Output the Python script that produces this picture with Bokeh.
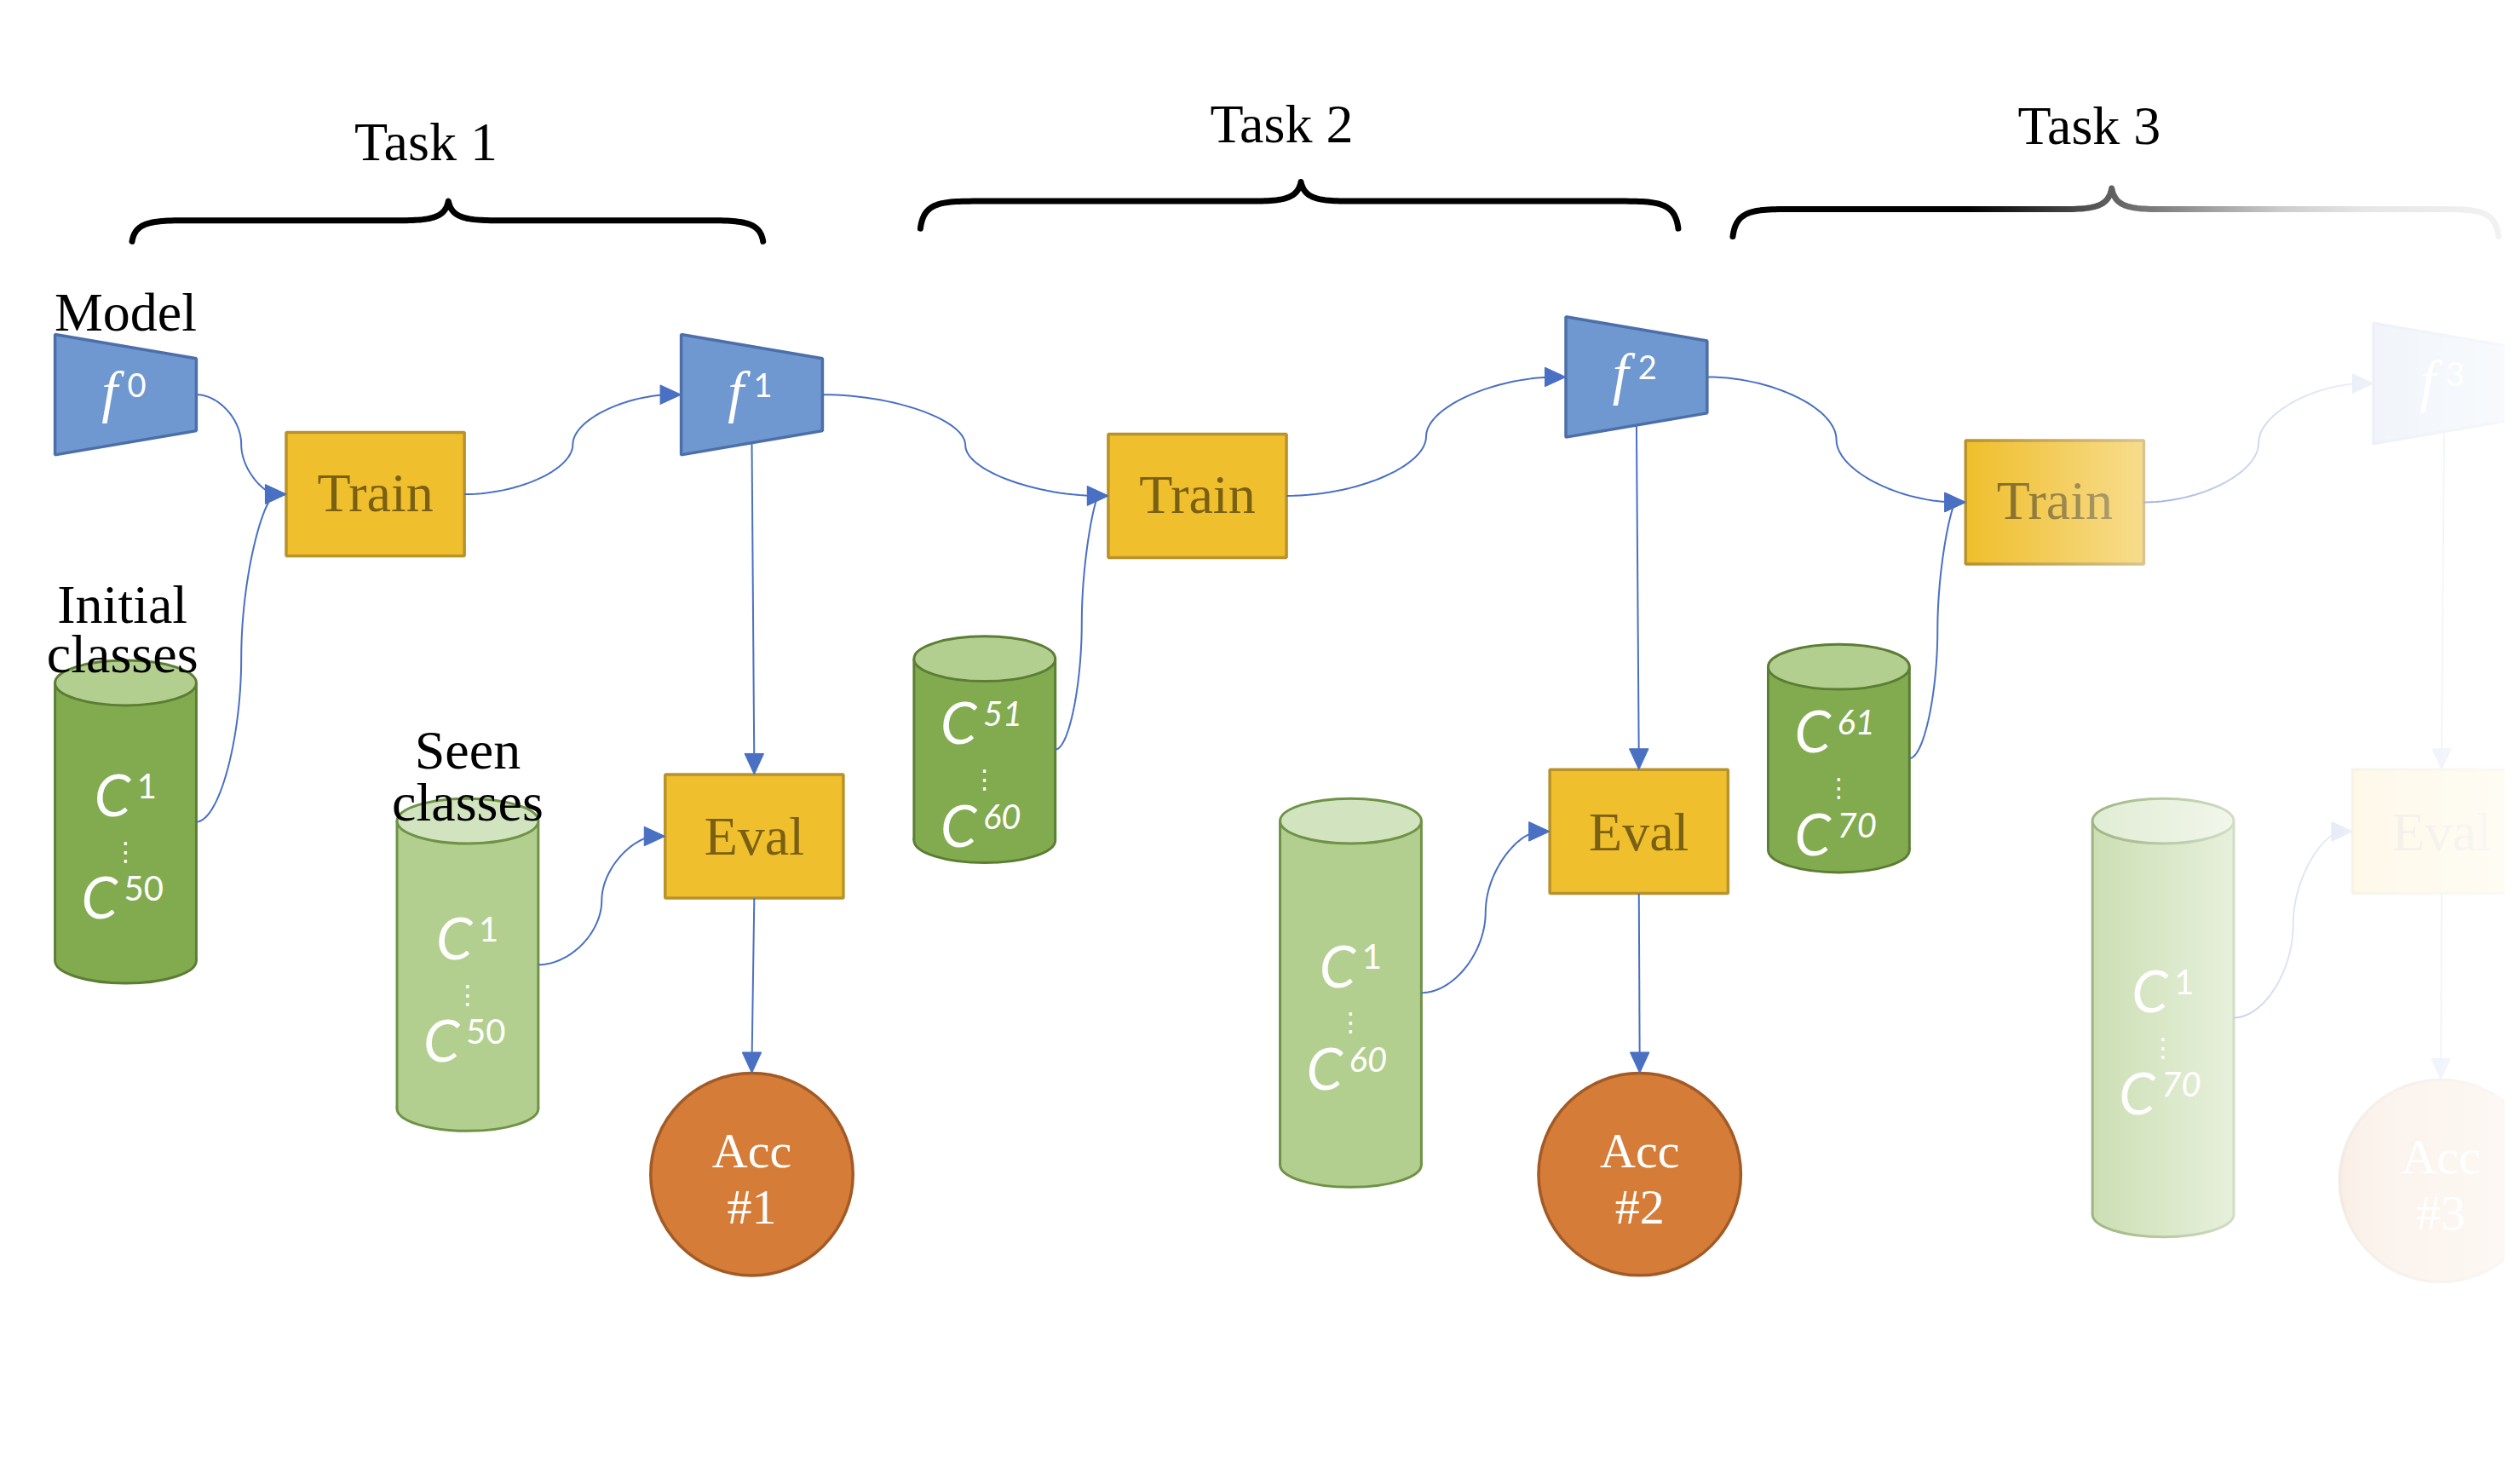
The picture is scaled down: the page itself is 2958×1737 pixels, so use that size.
import numpy as np
from bokeh.plotting import figure
from bokeh.models import Range1d
from bokeh.core.properties import value
from bokeh.embed import file_html
from bokeh.resources import INLINE

# ---- what the diagram says ----
task_labels = ["Task 1", "Task 2", "Task 3"]
model_labels = ["f", "f", "f", "f"]
model_sup = ["0", "1", "2", "3"]
train_labels = ["Train", "Train", "Train"]
eval_labels = ["Eval", "Eval", "Eval"]
acc_line1 = ["Acc", "Acc", "Acc"]
acc_line2 = ["#1", "#2", "#3"]
cyl_first = ["1", "1", "51", "1", "61", "1"]
cyl_last = ["50", "50", "60", "60", "70", "70"]
cyl_is_new = [True, False, True, False, True, False]
caption_lines = ["Model", "Initial", "classes", "Seen", "classes"]

# ---- layout (units of the drawing, y grows downward) ----
W, H = 1560.0, 912.6
SC = 2940 / W  # screen px per unit
task_x = [265, 798, 1301]
task_y = [100, 89, 90]
brace_geo = [(82, 279, 475, 125, 137, 150),
             (573, 810, 1045, 113, 125, 142),
             (1079, 1315, 1556, 117, 130, 147)]
model_left = [34, 424, 975, 1478]
model_top = [208, 208, 197, 201]
MW, MH, MI = 88, 75, 15
train_left = [178, 690, 1224]
train_top = [269, 270, 274]
eval_left = [414, 965, 1465]
eval_top = [482, 479, 479]
BW, BH = 111, 77
acc_cx = [468, 1021, 1520]
acc_cy = [731, 731, 735]
AR = 63
cyl_cx = [78, 291, 613, 841, 1145, 1347]
cyl_top = [425, 511, 410, 511, 415, 511]
cyl_bot = [598, 690, 523, 725, 529, 756]
CW, CE = 88, 28
caption_x = [78, 76, 76, 291, 291]
caption_y = [206, 388, 419, 479, 511]

BLUE = "#4a70c4"
SERIF = "Liberation Serif"

p = figure(width=2940, height=1720, x_range=Range1d(0, W), y_range=Range1d(H, 0),
           output_backend="svg", toolbar_location=None, min_border=0)
p.axis.visible = False
p.grid.visible = False
p.outline_line_color = None


def put_text(xs, ys, texts, size, font=SERIF, style="normal", color="black", align="center"):
    # y is the wanted baseline; shift to where the svg text actually sits
    p.text(x=xs, y=[y - 0.35 * size / SC for y in ys], text=texts, text_font=value(font),
           text_font_style=value(style), text_font_size=value(f"{size}px"), text_color=color,
           text_align=align, text_baseline="alphabetic")


def cubic(a, b, c, d, n=30):
    t = np.linspace(0, 1, n)[:, None]
    pts = ((1 - t) ** 3) * np.array(a) + 3 * ((1 - t) ** 2) * t * np.array(b) \
        + 3 * (1 - t) * t ** 2 * np.array(c) + t ** 3 * np.array(d)
    return pts[:, 0], pts[:, 1]


# braces
for (x0, xc, x1, yt, yb, ye) in brace_geo:
    segs = [cubic((x0, ye), (x0 + 2, yb + 1), (x0 + 12, yb), (x0 + 35, yb)),
            (np.array([x0 + 35, xc - 30]), np.array([yb, yb])),
            cubic((xc - 30, yb), (xc - 10, yb), (xc - 2, yb - 2), (xc, yt)),
            cubic((xc, yt), (xc + 2, yb - 2), (xc + 10, yb), (xc + 30, yb)),
            (np.array([xc + 30, x1 - 35]), np.array([yb, yb])),
            cubic((x1 - 35, yb), (x1 - 12, yb), (x1 - 2, yb + 1), (x1, ye))]
    bx = np.concatenate([s[0] for s in segs])
    by = np.concatenate([s[1] for s in segs])
    p.line(bx, by, line_color="black", line_width=7, line_join="round", line_cap="round")

# models (trapezoids)
mxs = [[l, l + MW, l + MW, l] for l in model_left]
mys = [[t, t + MI, t + MH - MI, t + MH] for t in model_top]
p.patches(mxs, mys, fill_color="#6f97d0", line_color="#4d6fa9", line_width=3.5)

# train / eval boxes
for lefts, tops in ((train_left, train_top), (eval_left, eval_top)):
    p.quad(left=lefts, right=[l + BW for l in lefts], top=tops, bottom=[t + BH for t in tops],
           fill_color="#f0bf2d", line_color="#b8922b", line_width=3.5)

# accuracy circles
p.circle(x=acc_cx, y=acc_cy, radius=AR, fill_color="#d57c38", line_color="#a25b27", line_width=3.5)

# cylinders
for cx, t, b, new in zip(cyl_cx, cyl_top, cyl_bot, cyl_is_new):
    body, edge, lid = ("#82ab4f", "#5b7e34", "#b3cf8f") if new else ("#b3cf8f", "#6e9346", "#d2e3bf")
    p.ellipse(x=[cx], y=[b], width=CW, height=CE, fill_color=body, line_color=edge, line_width=3)
    p.quad(left=[cx - CW / 2], right=[cx + CW / 2], top=[t], bottom=[b], fill_color=body, line_color=None)
    p.segment(x0=[cx - CW / 2, cx + CW / 2], y0=[t, t], x1=[cx - CW / 2, cx + CW / 2], y1=[b, b],
              line_color=edge, line_width=3)
    p.ellipse(x=[cx], y=[t], width=CW, height=CE, fill_color=lid, line_color=edge, line_width=3)


# anchors
def anchor(node, side):
    kind, i = node[0], int(node[1:])
    if kind == "m":
        l, t = model_left[i], model_top[i]
        return {"left": (l, t + MH / 2), "right": (l + MW, t + MH / 2),
                "bottom": (l + MW / 2, t + (MH + MH - MI) / 2)}[side]
    if kind in "te":
        l, t = (train_left[i], train_top[i]) if kind == "t" else (eval_left[i], eval_top[i])
        return {"left": (l, t + BH / 2), "right": (l + BW, t + BH / 2),
                "top": (l + BW / 2, t), "bottom": (l + BW / 2, t + BH)}[side]
    if kind == "a":
        return (acc_cx[i], acc_cy[i] - AR)
    if kind == "c":
        return (cyl_cx[i] + CW / 2, (cyl_top[i] + cyl_bot[i]) / 2)


curved_links = [("m0", "t0"), ("c0", "t0"), ("t0", "m1"), ("c1", "e0"),
                ("m1", "t1"), ("c2", "t1"), ("t1", "m2"), ("c3", "e1"),
                ("m2", "t2"), ("c4", "t2"), ("t2", "m3"), ("c5", "e2")]
straight_links = [("m1", "e0"), ("e0", "a0"), ("m2", "e1"), ("e1", "a1"),
                  ("m3", "e2"), ("e2", "a2")]

lxs, lys, heads = [], [], []
for src, dst in curved_links:
    x0, y0 = anchor(src, "right")
    x1, y1 = anchor(dst, "left")
    h = y1 - y0
    xm = (x0 + x1) / 2
    ax, ay = cubic((x0, y0), ((x0 + xm) / 2, y0), (xm, y0 + h / 4), (xm, y0 + h / 2))
    bx, by = cubic((xm, y0 + h / 2), (xm, y0 + 3 * h / 4), ((xm + x1) / 2, y1), (x1 - 6, y1))
    lxs.append(list(np.concatenate([ax, bx])))
    lys.append(list(np.concatenate([ay, by])))
    heads.append((x1, y1, 1, 0))
for src, dst in straight_links:
    x0, y0 = anchor(src, "bottom")
    x1, y1 = anchor(dst, "top")
    lxs.append([x0, x1])
    lys.append([y0, y1 - 6])
    heads.append((x1, y1, 0, 1))
p.multi_line(lxs, lys, line_color=BLUE, line_width=2)

L, HW = 13, 6
hx = [[x, x - L * dx - HW * dy, x - L * dx + HW * dy] for x, y, dx, dy in heads]
hy = [[y, y - L * dy + HW * dx, y - L * dy - HW * dx] for x, y, dx, dy in heads]
p.patches(hx, hy, fill_color=BLUE, line_color=BLUE, line_width=1)

# texts inside shapes
put_text([l + MW / 2 - 10 for l in model_left], [t + MH / 2 + 11 for t in model_top], model_labels,
         68, style="italic", color="white")
put_text([l + MW / 2 + 1 for l in model_left], [t + MH / 2 + 1 for t in model_top], model_sup,
         38, font="Lato", color="white", align="left")
put_text([l + BW / 2 for l in train_left], [t + BH / 2 + 11 for t in train_top], train_labels,
         64, color="#7a6012")
put_text([l + BW / 2 for l in eval_left], [t + BH / 2 + 12 for t in eval_top], eval_labels,
         64, color="#7a6012")
put_text(acc_cx, [c - 4 for c in acc_cy], acc_line1, 58, color="white")
put_text(acc_cx, [c + 31 for c in acc_cy], acc_line2, 58, color="white")

# class ranges in the cylinders
for cx, t, b, lo, hi in zip(cyl_cx, cyl_top, cyl_bot, cyl_first, cyl_last):
    mid = (t + b) / 2
    for lab, yb in ((lo, mid - 5), (hi, mid + 59)):
        cr = cx + 11 - 8 * len(lab)
        put_text([cr], [yb], ["C"], 68, font="Lato", style="italic", color="white", align="right")
        put_text([cr + 4], [yb - 10], [lab], 40, font="Lato",
                 style="normal" if lab in ("1", "50") else "italic", color="white", align="left")
    put_text([cx], [mid + 24], ["\u22ee"], 30, font="DejaVu Sans", color="white")

# captions
put_text(caption_x, caption_y, caption_lines, 64)

# fade toward the right edge: one white image whose alpha grows with x
fx = np.arange(1224, W + 10, 1.0)
fa = np.interp(fx, [1224, 1334, 1420, 1470, 1560], [0.0, 0.46, 0.8, 0.9, 0.95])
img = np.empty((2, len(fx)), dtype=np.uint32)
view = img.view(dtype=np.uint8).reshape((2, len(fx), 4))
view[:, :, 0] = 255
view[:, :, 1] = 255
view[:, :, 2] = 255
view[:, :, 3] = np.round(fa * 255).astype(np.uint8)
p.image_rgba(image=[img], x=1224, y=0, dw=W + 10 - 1224, dh=H)

# task titles on top
put_text(task_x, task_y, task_labels, 64)

open("out.html", "w").write(file_html(p, INLINE))
